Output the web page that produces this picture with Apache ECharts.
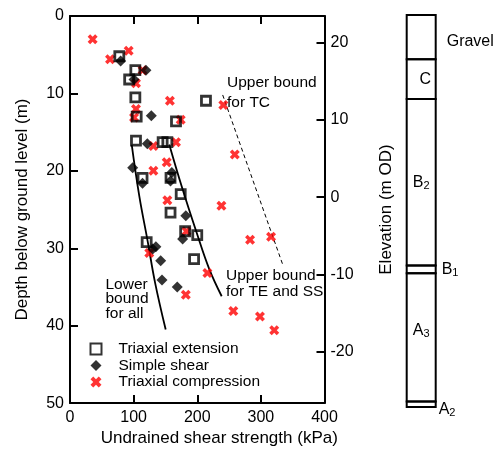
<!DOCTYPE html>
<html><head><meta charset="utf-8">
<script src="https://cdn.jsdelivr.net/npm/echarts@6/dist/echarts.min.js"></script>
<style>html,body{margin:0;padding:0;background:#fff}#c{width:502px;height:452px}</style>
</head><body><div id="c"></div>
<script>
// ---- data: [undrained shear strength (kPa), depth (m)] ----
const triaxialExtension = [[77.5,5.2],[102.7,7.0],[93,8.2],[102.7,10.5],[104.8,13.0],[166.6,13.6],[213.7,10.95],
  [103.7,16.1],[145.6,16.3],[153,16.3],[114,20.9],[158,20.9],[174,23.0],[158,25.4],[181,27.8],[200,28.3],[120.5,29.2],[195,31.4]];
const simpleShear = [[79.6,5.8],[119.4,7.0],[100.6,8.2],[127.8,12.9],[121.5,16.5],[98.5,19.6],[114,21.6],[160,20.2],[158,21.3],
  [182,25.8],[177,28.8],[135,29.8],[130,30.1],[142.5,31.6],[144.6,34.1],[168.6,35.0]];
const triaxialCompression = [[35.6,3.0],[62.9,5.6],[92.2,4.5],[114,7.0],[103.7,8.7],[157,10.95],[103.7,12.0],[100.6,13.1],[174,13.4],
  [241,11.5],[131,16.8],[166.6,16.3],[152,18.9],[131,20.0],[153,23.8],[183,27.8],[124.6,30.6],[182,36.0],[259,17.9],[238,24.5],
  [283,28.9],[316,28.5],[216,33.2],[256.7,38.1],[298.6,38.8],[321,40.6]];
const lowerBoundAll = [[97.0,16.6],[109.0,23.3],[122.1,29.1],[133.6,34.4],[150.4,40.5]];
const upperBoundTESS = [[156.0,16.6],[175.5,22.0],[199.1,28.0],[218.9,32.7],[238.4,36.2]];
const upperBoundTC = [[240,10.2],[334.3,32.1]];
const xTicks = [0,100,200,300,400];
const depthTicks = [0,10,20,30,40,50];
const elevationTicks = [20,10,0,-10,-20];
const groundElevation = 23.4; // m OD at depth 0
// stratigraphic column (depth, m)
const layerNames = ['Gravel','C','B2','B1','A3','A2'];
const layerTops = [0,5.7,10.8,32.2,33.2,49.7];
const layerBottoms = [5.7,10.8,32.2,33.2,49.7,50.4];

const FONT = '"Liberation Sans", Arial, sans-serif';
const outsideLabels = {Gravel:[11,4], B1:[6,0], A2:[3,5]};
const insideOffsets = {C:[4,0], B2:[0,0], A3:[0,-7]};
function richName(n){ return /\d$/.test(n) ? n.slice(0,-1)+'{s|'+n.slice(-1)+'}' : n; }

const chart = echarts.init(document.getElementById('c'), null, {renderer:'canvas'});
const axisLine = {show:true, onZero:false, lineStyle:{color:'#000', width:2}};
const tickCommon = {show:true, inside:true, length:8, lineStyle:{color:'#000', width:2}};
const X_SYMBOL = 'path://M2.5,0 L5,2.5 L7.5,0 L10,2.5 L7.5,5 L10,7.5 L7.5,10 L5,7.5 L2.5,10 L0,7.5 L2.5,5 L0,2.5 Z';

chart.setOption({
  animation:false,
  backgroundColor:'#fff',
  textStyle:{fontFamily:FONT},
  grid:[
    {left:70, right:177.5, top:16, bottom:48},
    {left:406.7, width:29, top:15, height:392}
  ],
  legend:{
    data:['Triaxial extension','Simple shear','Triaxial compression'],
    orient:'vertical', left:89.5, top:341, itemWidth:11, itemHeight:11, itemGap:0.5,
    textStyle:{fontSize:15.5, color:'#000', lineHeight:16, fontFamily:FONT, padding:[0,0,0,12]}, padding:0
  },
  xAxis:[
    {gridIndex:0, type:'value', position:'bottom', min:0, max:400, interval:100,
     axisLine:axisLine, axisTick:tickCommon,
     axisLabel:{fontSize:16, color:'#000', margin:6, fontFamily:FONT}, splitLine:{show:false},
     name:'Undrained shear strength (kPa)', nameLocation:'middle', nameGap:25,
     nameTextStyle:{fontSize:17, color:'#000', padding:[0,0,0,44], fontFamily:FONT}},
    {gridIndex:0, type:'value', position:'top', min:0, max:400, interval:100,
     axisLine:axisLine, axisTick:tickCommon,
     axisLabel:{show:false}, splitLine:{show:false}},
    {gridIndex:1, type:'value', min:0, max:1, show:false}
  ],
  yAxis:[
    {gridIndex:0, type:'value', position:'left', inverse:true, min:0, max:50, interval:10,
     axisLine:axisLine, axisTick:tickCommon,
     axisLabel:{fontSize:16, color:'#000', margin:6, fontFamily:FONT}, splitLine:{show:false},
     name:'Depth below ground level (m)', nameLocation:'middle', nameGap:39, nameRotate:90,
     nameTextStyle:{fontSize:17, color:'#000', fontFamily:FONT}},
    {gridIndex:0, type:'value', position:'right', min:groundElevation-50, max:groundElevation,
     axisLine:axisLine,
     axisTick:Object.assign({}, tickCommon, {customValues:elevationTicks}),
     axisLabel:{fontSize:16, color:'#000', margin:6, customValues:elevationTicks, fontFamily:FONT},
     splitLine:{show:false},
     name:'Elevation (m OD)', nameLocation:'middle', nameGap:53, nameRotate:90,
     nameTextStyle:{fontSize:17, color:'#000', fontFamily:FONT}},
    {gridIndex:1, type:'value', inverse:true, min:0, max:50.4, show:false}
  ],
  graphic:[
    {type:'text', left:227, top:73, style:{text:'Upper bound\nfor TC', font:'15.5px '+FONT, fill:'#000', lineHeight:20}},
    {type:'text', left:226, top:268, style:{text:'Upper bound\nfor TE and SS', font:'15.5px '+FONT, fill:'#000', lineHeight:16}},
    {type:'text', left:105.5, top:276.5, style:{text:'Lower\nbound\nfor all', font:'15.5px '+FONT, fill:'#000', lineHeight:14.7}}
  ],
  series:[
    {name:'Upper bound for TC', type:'line', data:upperBoundTC, showSymbol:false, silent:true,
     lineStyle:{color:'#000', width:1, type:[4,3]}, z:1},
    {name:'Lower bound for all', type:'line', data:lowerBoundAll, showSymbol:false, smooth:0.4, silent:true,
     lineStyle:{color:'#000', width:1.8}, z:1},
    {name:'Upper bound for TE and SS', type:'line', data:upperBoundTESS, showSymbol:false, smooth:0.4, silent:true,
     lineStyle:{color:'#000', width:1.8}, z:1},
    {name:'Triaxial compression', type:'scatter', data:triaxialCompression, symbol:X_SYMBOL, symbolSize:10,
     itemStyle:{color:'#ff0000'}, z:2},
    {name:'Triaxial extension', type:'scatter', data:triaxialExtension, symbol:'rect', symbolSize:9,
     itemStyle:{color:'rgba(255,255,255,0)', borderColor:'#000', borderWidth:2.8}, z:3},
    {name:'Simple shear', type:'scatter', data:simpleShear, symbol:'diamond', symbolSize:11,
     itemStyle:{color:'#000'}, z:4},
    {name:'Strata', type:'custom', xAxisIndex:2, yAxisIndex:2, silent:true,
     data:layerNames.map((n,i)=>[layerTops[i], layerBottoms[i], n]),
     renderItem:function(params, api){
       const i = params.dataIndex;
       const n = layerNames[i];
       const p0 = api.coord([0, api.value(0)]);
       const p1 = api.coord([1, api.value(1)]);
       const cy = (p0[1]+p1[1])/2;
       let tx, ty, align;
       if (outsideLabels[n]) { tx = p1[0]+outsideLabels[n][0]; ty = cy+outsideLabels[n][1]; align='left'; }
       else { tx = (p0[0]+p1[0])/2+insideOffsets[n][0]; ty = cy+insideOffsets[n][1]; align='center'; }
       return {type:'group', children:[
         {type:'rect', shape:{x:p0[0], y:p0[1], width:p1[0]-p0[0], height:p1[1]-p0[1]},
          style:{fill:'none', stroke:'#000', lineWidth:2}},
         {type:'text', x:tx, y:ty, style:{text:richName(n), fill:'#000', font:'16px '+FONT,
           align:align, verticalAlign:'middle',
           rich:{s:{fontSize:11, fontFamily:FONT, padding:[8,0,0,0], fill:'#000'}}}}
       ]};
     }}
  ]
});
</script>
</body></html>
